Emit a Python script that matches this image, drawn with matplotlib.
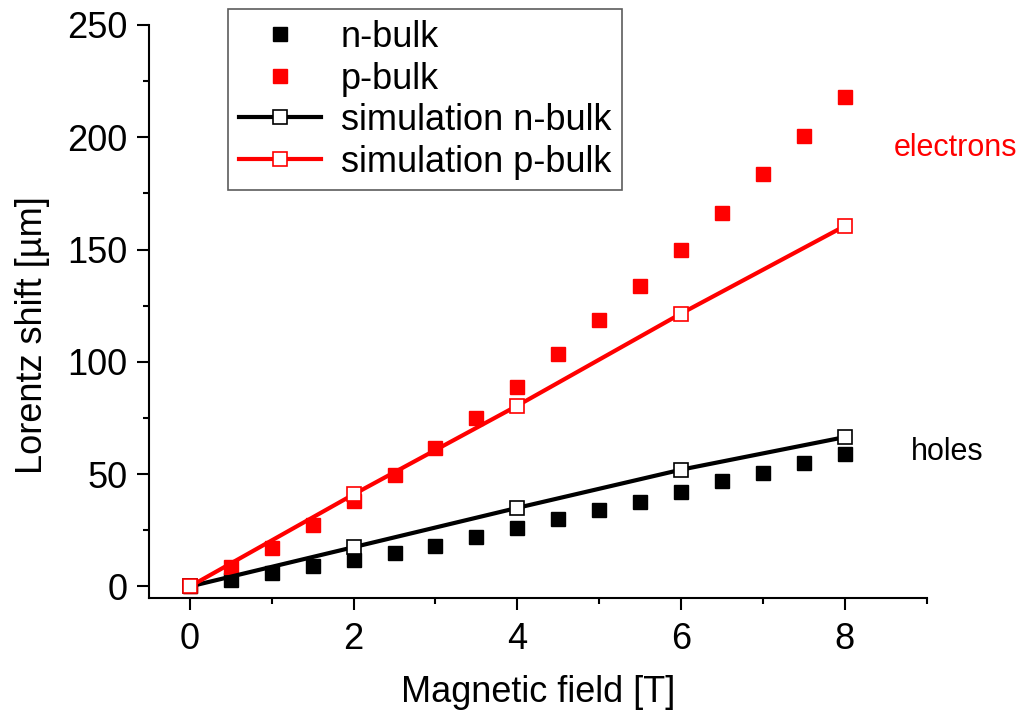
import matplotlib.pyplot as plt
from matplotlib.ticker import MultipleLocator

plt.rcParams['font.family'] = ['Liberation Sans', 'DejaVu Sans']

field = [0, 0.5, 1, 1.5, 2, 2.5, 3, 3.5, 4, 4.5, 5, 5.5, 6, 6.5, 7, 7.5, 8]
n_bulk = [0, 3, 6, 9, 12, 15, 18, 22, 26, 30, 34, 37.5, 42, 47, 50.5, 55, 59]
p_bulk = [0, 8.5, 17, 27.5, 38, 49.5, 61.5, 75, 89, 103.5, 118.5, 134, 150, 166.5, 183.5, 200.5, 218]

sim_field = [0, 2, 4, 6, 8]
sim_n = [0, 17.5, 35, 52, 66.5]
sim_p = [0, 41, 80.5, 121.5, 160.5]

fig = plt.figure(figsize=(10.2, 7.13), dpi=100)
ax = fig.add_axes([0.146, 0.1617, 0.7625, 0.8033])

ax.plot(field, n_bulk, 's', color='black', markersize=9.5, label='n-bulk', zorder=3)
ax.plot(field, p_bulk, 's', color='red', markersize=9.5, label='p-bulk', zorder=3)
ax.plot(sim_field, sim_n, '-s', color='black', lw=3, markersize=9.5,
        markerfacecolor='white', markeredgewidth=1.2, label='simulation n-bulk', zorder=4)
ax.plot(sim_field, sim_p, '-s', color='red', lw=3, markersize=9.5,
        markerfacecolor='white', markeredgewidth=1.2, label='simulation p-bulk', zorder=4)

ax.set_xlim(-0.5, 9)
ax.set_ylim(-5, 250)
ax.spines['top'].set_visible(False)
ax.spines['right'].set_visible(False)
ax.spines['left'].set_linewidth(1.5)
ax.spines['bottom'].set_linewidth(1.5)

ax.xaxis.set_major_locator(MultipleLocator(2))
ax.xaxis.set_minor_locator(MultipleLocator(1))
ax.yaxis.set_major_locator(MultipleLocator(50))
ax.yaxis.set_minor_locator(MultipleLocator(25))
ax.tick_params(which='major', direction='out', length=8.5, width=1.5, labelsize=26)
ax.tick_params(which='minor', direction='out', length=4.5, width=1.5)
ax.tick_params(axis='x', pad=9)
ax.tick_params(axis='y', pad=7)

ax.set_xlabel('Magnetic field [T]', fontsize=26, labelpad=14)
ax.set_ylabel('Lorentz shift [µm]', fontsize=26)
ax.xaxis.set_label_coords(0.5, -0.135)
ax.yaxis.set_label_coords(-0.127, 0.459)

ax.text(8.6, 195, 'electrons', color='red', fontsize=22, va='center', clip_on=False)
ax.text(8.81, 60, 'holes', color='black', fontsize=22, va='center', clip_on=False)

leg = ax.legend(loc='upper left', bbox_to_anchor=(0.2235, 0.987), bbox_transform=fig.transFigure,
                fontsize=26, frameon=True, fancybox=False, handlelength=2.28, borderaxespad=0,
                borderpad=0.3, labelspacing=0.18, handletextpad=0.55)
leg.get_frame().set_edgecolor('#333333')
leg.get_frame().set_linewidth(1.2)

fig.savefig('out.png', dpi=100)
